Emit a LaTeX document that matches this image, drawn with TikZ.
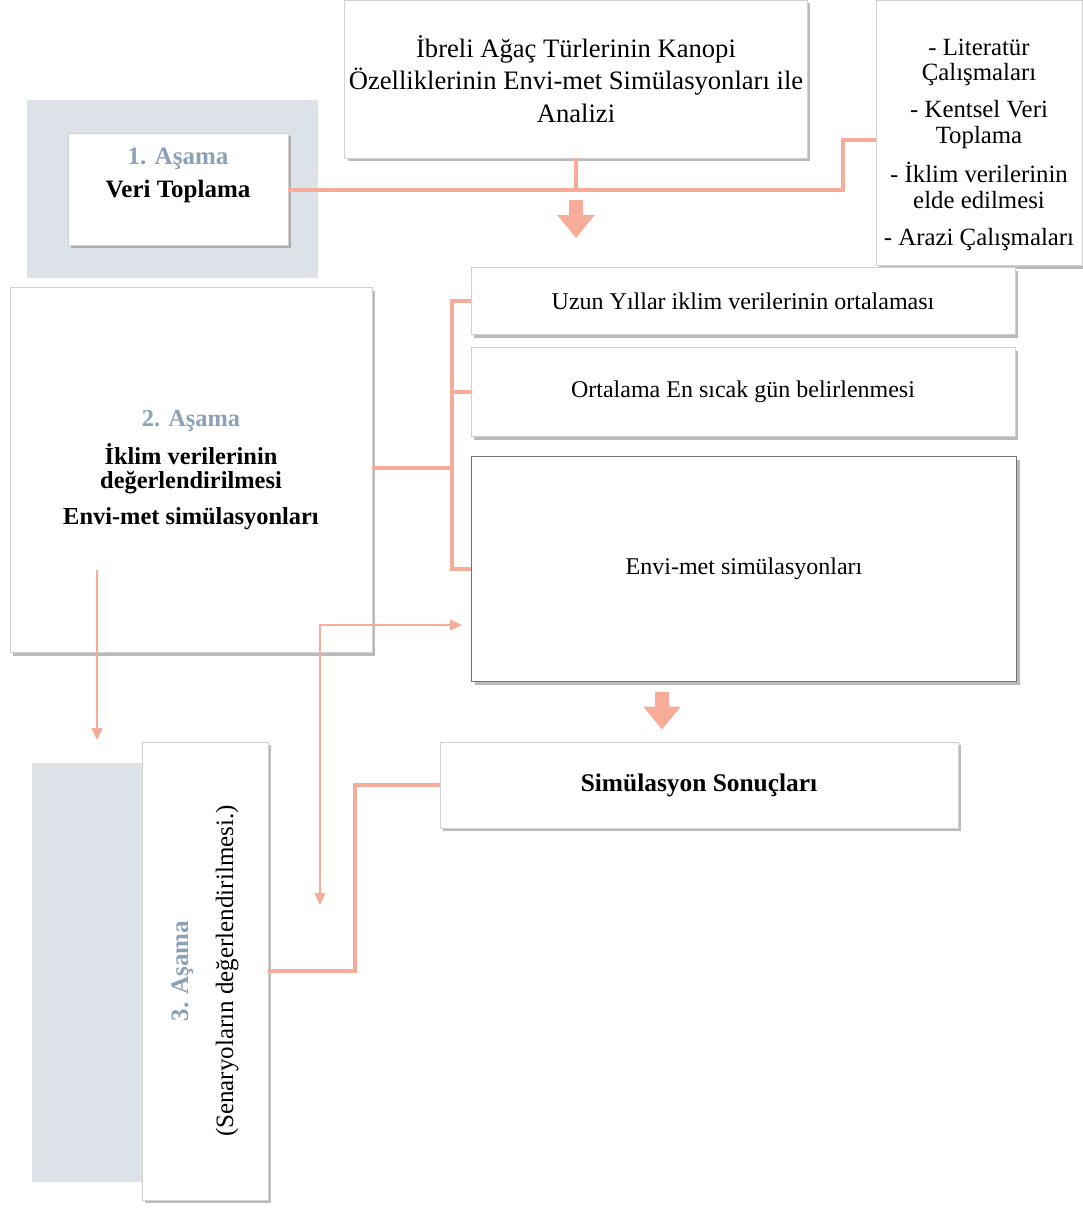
\documentclass[tikz,border=0pt]{standalone}
\usepackage{fontspec}
\setmainfont{Liberation Serif}
\usetikzlibrary{arrows.meta}
\usetikzlibrary{shadows}

\definecolor{peach}{RGB}{246,172,152}
\definecolor{stagegray}{RGB}{221,226,232}
\definecolor{stageblue}{RGB}{139,161,183}

\newcommand{\stagehead}[1]{{\color{stageblue}\bfseries #1}}

\tikzset{
	panel/.style={draw=black!18, fill=white, align=center, inner sep=2pt,
		drop shadow={shadow xshift=1.5pt, shadow yshift=-1.5pt, fill=black!45, opacity=.6},
		font=\fontsize{12}{14.5}\selectfont},
	link/.style={draw=peach, line width=2pt},
	thinlink/.style={draw=peach, line width=0.7pt},
	tip/.tip={Triangle[width=5.5pt, length=6pt]},
	bigarrow/.style={draw=peach, line width=7pt, -{Triangle[width=18pt, length=11.5pt]}},
}

\begin{document}
\begin{tikzpicture}[x=0.5pt, y=-0.5pt]
	\useasboundingbox (0,0) rectangle (1082,1210);
	
	\fill[stagegray] (27,100) rectangle (318,278);
	\fill[stagegray] (32,763) rectangle (142,1182);
	
	\node[panel, minimum width=110pt, minimum height=56pt, font=\fontsize{12.5}{16.5}\selectfont](stage1) at (178,189)
		{\stagehead{1. Aşama}\\ \textbf{Veri Toplama}\\ \mbox{}};
	\node[panel, minimum width=229pt, minimum height=79pt, font=\fontsize{13.3}{16.2}\selectfont](title) at (576,79)
		{İbreli Ağaç Türlerinin Kanopi\\ Özelliklerinin Envi-met Simülasyonları ile\\ Analizi};
	\node[panel, minimum width=103pt, minimum height=132.5pt, font=\fontsize{12.4}{12.7}\selectfont](lit) at (979,133)
		{\mbox{}\\[7.3pt] - Literatür\\ Çalışmaları\\[5.8pt] - Kentsel Veri\\ Toplama\\[5.8pt] - İklim verilerinin\\ elde edilmesi\\[5.8pt] - Arazi Çalışmaları};
	
	\node[panel, minimum width=181pt, minimum height=182.5pt, font=\fontsize{12.2}{11.8}\selectfont](stage2) at (191,470)
		{\stagehead{2. Aşama}\\[5pt] \textbf{İklim verilerinin}\\ \textbf{değerlendirilmesi}\\[6.2pt] \textbf{Envi-met simülasyonları}};
	\node[panel, minimum width=272pt, minimum height=33.5pt](boxA) at (743,301) {Uzun Yıllar iklim verilerinin ortalaması};
	\node[panel, minimum width=272pt, minimum height=44.5pt](boxB) at (743,392) {Ortalama En sıcak gün belirlenmesi};
	\node[panel, draw=black!55, line width=0.8pt, minimum width=272.5pt, minimum height=112.5pt](boxC) at (744,569) {Envi-met simülasyonları};
	
	\node[panel, minimum width=259pt, minimum height=43pt, font=\fontsize{12.7}{14}\selectfont](sim) at (699,785) {\textbf{Simülasyon Sonuçları}};
	\node[panel, minimum width=63pt, minimum height=229pt](stage3) at (205,971) {};
	\node[rotate=90, align=center, font=\fontsize{12.5}{22.5}\selectfont](stage3txt) at (stage3.center)
		{\stagehead{3. Aşama}\\ (Senaryoların değerlendirilmesi.)};
	
	% free ends of the arrows
	\coordinate (jn) at (576,190);
	\coordinate (br) at (452,468);
	\coordinate (downA) at (576,200);
	\coordinate (downB) at (576,238);
	\coordinate (s2out) at (97,570);
	\coordinate (s3in) at (97,740);
	\coordinate (c2in) at (462,625);
	\coordinate (c3in) at (320,905);
	
	\draw[link] (title.south) -- (jn);
	\draw[link] (stage1.east |- jn) -- (843,190) |- ([yshift=-3.5pt]lit.west);
	
	\draw[link] (stage2.east |- br) -- (br);
	\draw[link] (boxA.west) -| (br) |- (boxC.west);
	\draw[link] (boxB.west) -- (br |- boxB.west);
	
	\draw[link] (stage3.east) -- (355,971) |- (sim.west);
	
	\draw[bigarrow] (downA) -- (downB);
	\draw[bigarrow] ([xshift=-41pt, yshift=-5pt]boxC.south) -- ([xshift=-18.5pt, yshift=6pt]sim.north);
	
	\draw[thinlink, -tip] (s2out) -- (s3in);
	\draw[thinlink, tip-tip] (c2in) -| (c3in);
\end{tikzpicture}
\end{document}
